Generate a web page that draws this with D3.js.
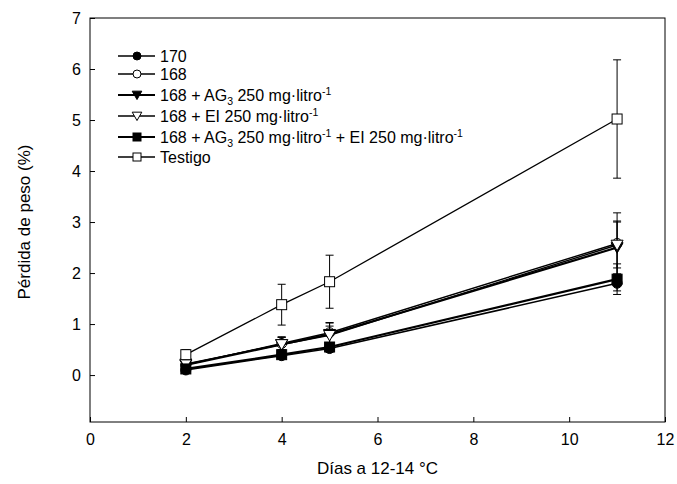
<!DOCTYPE html>
<html><head><meta charset="utf-8">
<script src="https://cdn.jsdelivr.net/npm/d3@7"></script>
<style>body{margin:0;background:#fff}svg{font-family:"Liberation Sans",Arial,sans-serif}</style>
</head><body>
<svg id="c" width="677" height="484"></svg>
<script>
const days = [2, 4, 5, 11];
const s170 = [0.10, 0.38, 0.52, 1.80];
const e170 = [0.05, 0.06, 0.07, 0.15];
const s168 = [0.20, 0.62, 0.83, 2.58];
const e168 = [0.08, 0.12, 0.20, 0.60];
const sAG = [0.20, 0.60, 0.80, 2.50];
const eAG = [0.07, 0.15, 0.22, 0.52];
const sEI = [0.22, 0.60, 0.78, 2.55];
const eEI = [0.06, 0.14, 0.18, 0.45];
const sAGEI = [0.12, 0.40, 0.55, 1.88];
const eAGEI = [0.05, 0.06, 0.06, 0.30];
const sTest = [0.40, 1.38, 1.83, 5.02];
const eTest = [0.10, 0.40, 0.52, 1.16];
const xTicks = [0, 2, 4, 6, 8, 10, 12];
const yTicks = [0, 1, 2, 3, 4, 5, 6, 7];

const series = [
  {name:"170", v:s170, e:e170, shape:"circle", fill:"#000", lw:1.6},
  {name:"168", v:s168, e:e168, shape:"circle", fill:"#fff", lw:1.4},
  {name:"AG", v:sAG, e:eAG, shape:"tri", fill:"#000", lw:2.2},
  {name:"EI", v:sEI, e:eEI, shape:"tri", fill:"#fff", lw:1.4},
  {name:"AGEI", v:sAGEI, e:eAGEI, shape:"square", fill:"#000", lw:2.2},
  {name:"Testigo", v:sTest, e:eTest, shape:"square", fill:"#fff", lw:1.3}
];

const svg = d3.select("#c");
const L = 90, R = 665, T = 18, B = 422;
const x = d3.scaleLinear().domain([0, 12]).range([L, R]);
const y = d3.scaleLinear().domain([-0.92, 7]).range([B, T]);

svg.append("rect").attr("x", L).attr("y", T).attr("width", R - L).attr("height", B - T)
  .attr("fill", "none").attr("stroke", "#000").attr("stroke-width", 1);

const xa = svg.append("g").attr("transform", `translate(0,${B})`)
  .call(d3.axisBottom(x).tickValues(xTicks).tickSize(-5).tickPadding(12));
const ya = svg.append("g").attr("transform", `translate(${L},0)`)
  .call(d3.axisLeft(y).tickValues(yTicks).tickSize(-5).tickPadding(9));
[xa, ya].forEach(a => {
  a.select(".domain").remove();
  a.selectAll("text").attr("font-size", 16).attr("font-family", '"Liberation Sans",Arial,sans-serif').attr("fill", "#000");
  a.selectAll("line").attr("stroke", "#000");
});

svg.append("text").attr("x", x(6)).attr("y", 474).attr("text-anchor", "middle")
  .attr("font-size", 17).text("Días a 12-14 °C");
svg.append("text").attr("transform", `translate(30,${y(3)}) rotate(-90)`).attr("text-anchor", "middle")
  .attr("font-size", 17).text("Pérdida de peso (%)");

function marker(g, shape, fill, cx, cy, k) {
  k = k || 1;
  if (shape === "circle") {
    g.append("circle").attr("cx", cx).attr("cy", cy).attr("r", 5 * k)
      .attr("fill", fill).attr("stroke", "#000").attr("stroke-width", 1);
  } else if (shape === "tri") {
    const s = 6 * k;
    g.append("path").attr("d", `M${cx - s},${cy - s * 0.8}L${cx + s},${cy - s * 0.8}L${cx},${cy + s * 0.95}Z`)
      .attr("fill", fill).attr("stroke", "#000").attr("stroke-width", 1);
  } else {
    const h = 5 * k;
    g.append("rect").attr("x", cx - h).attr("y", cy - h).attr("width", 2 * h).attr("height", 2 * h)
      .attr("fill", fill).attr("stroke", "#000").attr("stroke-width", 1);
  }
}

const line = d3.line().x((d, i) => x(days[i])).y(d => y(d));
series.forEach(s => {
  const g = svg.append("g");
  s.v.forEach((v, i) => {
    const cx = x(days[i]);
    const lo = y(v - s.e[i]), hi = y(v + s.e[i]);
    g.append("line").attr("x1", cx).attr("x2", cx).attr("y1", lo).attr("y2", hi).attr("stroke", "#000").attr("stroke-width", 1);
    [lo, hi].forEach(yy => g.append("line").attr("x1", cx - 4).attr("x2", cx + 4).attr("y1", yy).attr("y2", yy).attr("stroke", "#000").attr("stroke-width", 1));
  });
  g.append("path").attr("d", line(s.v)).attr("fill", "none").attr("stroke", "#000").attr("stroke-width", s.lw);
  s.v.forEach((v, i) => marker(g, s.shape, s.fill, x(days[i]), y(v)));
});

// legend
const legY = [56, 74, 95, 116, 137, 157];
const lg = svg.append("g").attr("font-size", 16);
series.forEach((s, i) => {
  const yy = legY[i];
  lg.append("line").attr("x1", 118).attr("x2", 155).attr("y1", yy).attr("y2", yy).attr("stroke", "#000").attr("stroke-width", s.lw);
  marker(lg, s.shape, s.fill, 137, yy, 0.8);
});
const sup = (t, txt) => t.append("tspan").attr("font-size", 10.5).attr("dy", -6).text(txt);
const unsup = (t, txt) => t.append("tspan").attr("dy", 6).text(txt);
const sub = (t, txt) => t.append("tspan").attr("font-size", 10.5).attr("dy", 4).text(txt);
const unsub = (t, txt) => t.append("tspan").attr("dy", -4).text(txt);
function lt(i) { return lg.append("text").attr("x", 160).attr("y", legY[i] + 5.5); }
lt(0).text("170");
lt(1).text("168");
{ const t = lt(2); t.append("tspan").text("168 + AG"); sub(t, "3"); unsub(t, " 250 mg·litro"); sup(t, "-1"); }
{ const t = lt(3); t.append("tspan").text("168 + EI 250 mg·litro"); sup(t, "-1"); }
{ const t = lt(4); t.append("tspan").text("168 + AG"); sub(t, "3"); unsub(t, " 250 mg·litro"); sup(t, "-1"); unsup(t, " + EI 250 mg·litro"); sup(t, "-1"); }
lt(5).text("Testigo");
</script>
</body></html>
